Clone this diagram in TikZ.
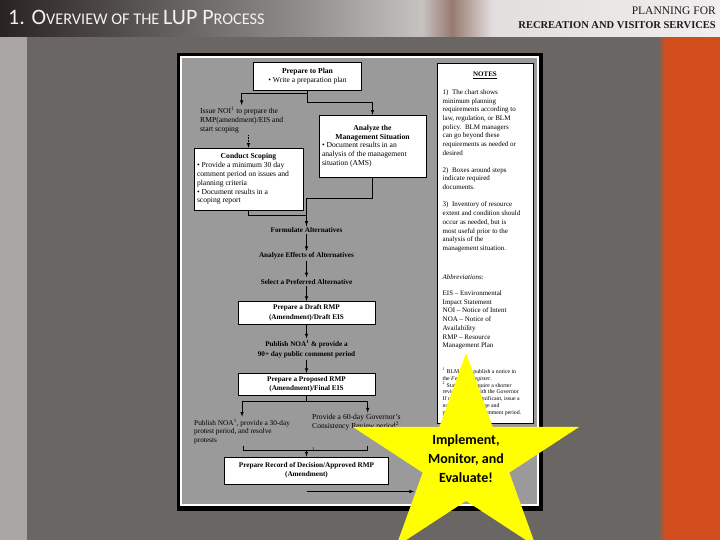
\documentclass[tikz,border=0pt]{standalone}
\usepackage{fontspec}
\setmainfont{Liberation Serif}
\newfontfamily\slidefont{Carlito}
\usepackage{xcolor}
\usetikzlibrary{positioning,calc}

\definecolor{hdrdark}{HTML}{2A2323}
\definecolor{hdrmid}{HTML}{8F8D8C}
\definecolor{hdrlight}{HTML}{C6C2C0}
\definecolor{hdrbrown}{HTML}{987A72}
\definecolor{hdrwhite}{HTML}{E2DEDD}
\definecolor{hdrend}{HTML}{F0EEEE}
\definecolor{hdrtext}{HTML}{1E1A1A}
\definecolor{titlewhite}{HTML}{F2F2F2}
\definecolor{sidegray}{HTML}{A9A6A4}
\definecolor{slidegray}{HTML}{6A6664}
\definecolor{slideorange}{HTML}{D14D1C}
\definecolor{chartgray}{HTML}{9A9A9A}
\definecolor{staryellow}{HTML}{FFFF00}

\newcommand{\boxfont}{\fontsize{7.6}{8.8}\selectfont}
\newcommand{\stepfont}{\fontsize{7.2}{9.5}\selectfont\bfseries}
\newcommand{\notefont}{\fontsize{7}{8.7}\selectfont}
\newcommand{\footfont}{\fontsize{5.8}{6.9}\selectfont}
\newcommand{\ttlbig}{\fontsize{22}{22}\selectfont}
\newcommand{\ttlsmall}{\fontsize{16.3}{16.3}\selectfont}
\newcommand{\boxhead}[1]{\makebox[\linewidth][c]{\textbf{#1}}}

\tikzset{
  stepbox/.style={draw, fill=white, line width=0.6pt, inner sep=3pt},
  steplabel/.style={inner sep=1.5pt, align=center, font=\stepfont},
  plainlabel/.style={inner sep=2pt, align=left, font=\boxfont, anchor=west},
  notetext/.style={inner sep=0pt, align=left, font=\notefont, anchor=west},
  arr/.style={-latex, line width=0.6pt},
  link/.style={line width=0.6pt},
}

\begin{document}
\begin{tikzpicture}[x=1pt,y=-1pt]
    \useasboundingbox (0,0) rectangle (720,540);
    \clip (0,0) rectangle (720,540);
    % slide background
    \fill[slidegray] (0,37) rectangle (720,540);
    \fill[sidegray] (0,37) rectangle (27,540);
    \shade[left color=slidegray, right color=slideorange] (658,37) rectangle (665,540);
    \fill[slideorange] (665,37) rectangle (720,540);
    % header band
    \shade[left color=hdrdark, right color=hdrmid] (0,0) rectangle (300,37);
    \shade[left color=hdrmid, right color=hdrlight] (300,0) rectangle (422,37);
    \shade[left color=hdrlight, right color=hdrbrown] (422,0) rectangle (452,37);
    \shade[left color=hdrbrown, right color=hdrwhite] (452,0) rectangle (492,37);
    \shade[left color=hdrwhite, right color=hdrend] (492,0) rectangle (720,37);
    \node[anchor=base west, inner sep=0, text=titlewhite, font=\slidefont] (title) at (8,25)
        {\ttlbig 1. O\ttlsmall VERVIEW OF THE \ttlbig LUP P\ttlsmall ROCESS};
    \node[anchor=base east, inner sep=0, text=hdrtext, font=\fontsize{11.5}{12}\selectfont] (subtop) at (716,15) {PLANNING FOR};
    \node[anchor=base east, inner sep=0, text=hdrtext, font=\fontsize{10.5}{11}\selectfont\bfseries] (subbot) at (716,28.5) {RECREATION AND VISITOR SERVICES};

    % chart frame
    \fill[black] (177,53) rectangle (543,511);
    \fill[white] (180,56) rectangle (539,506);
    \fill[chartgray] (182,58) rectangle (537,504);

    % flow chart
    \node[stepbox, minimum width=108pt, minimum height=28pt, align=center, font=\boxfont] (plan) at (307.5,76.5)
        {\textbf{Prepare to Plan}\\\textbullet\ Write a preparation plan};
    \node[plainlabel] (issue) at (198,120) {Issue NOI\textsuperscript{1} to prepare the\\RMP(amendment)/EIS and\\start scoping};
    \node[stepbox, text width=103pt, minimum height=62pt, align=flush left, font=\boxfont] (scope) at (248.5,179)
        {\boxhead{Conduct Scoping}\\\textbullet\ Provide a minimum 30 day\\comment period on issues and\\planning criteria\\\textbullet\ Document results in a\\scoping report};
    \node[stepbox, text width=101pt, minimum height=62pt, align=flush left, font=\boxfont] (ams) at (372.5,146)
        {\boxhead{Analyze the}\\\boxhead{Management Situation}\\\textbullet\ Document results in an\\analysis of the management\\situation (AMS)\par\vspace{9pt}};
    \node[steplabel] (formulate) at (306.5,230) {Formulate Alternatives};
    \node[steplabel] (effects) at (306.5,256) {Analyze Effects of Alternatives};
    \node[steplabel] (select) at (306.5,281.5) {Select a Preferred Alternative};
    \node[stepbox, minimum width=137pt, minimum height=23pt, align=center, font=\stepfont] (draft) at (306.5,312.7)
        {Prepare a Draft RMP\\(Amendment)/Draft EIS};
    \node[steplabel, font=\fontsize{7.2}{10}\selectfont\bfseries] (noa) at (306.5,349)
        {Publish NOA\textsuperscript{1} \& provide a\\90+ day public comment period};
    \node[stepbox, minimum width=137pt, minimum height=22pt, align=center, font=\stepfont] (proposed) at (306.5,384.2)
        {Prepare a Proposed RMP\\(Amendment)/Final EIS};
    \node[plainlabel, font=\fontsize{7.3}{8.7}\selectfont] (protest) at (192,431.5)
        {Publish NOA\textsuperscript{1}, provide a 30-day\\protest period, and resolve\\protests};
    \node[plainlabel] (governor) at (310,422.5)
        {Provide a 60-day Governor's\\Consistency Review period\textsuperscript{2}};
    \node[stepbox, minimum width=164pt, minimum height=27pt, align=center, font=\stepfont] (record) at (306.5,470.3)
        {Prepare Record of Decision/Approved RMP\\(Amendment)};
    \node[inner sep=0, font=\fontsize{4.5}{5}\selectfont] (recmark) at (313.3,449) {1};

    \coordinate (govin) at (367.7,412.5);
    \coordinate (brl) at (243.3,445.5);
    \coordinate (brr) at (367.7,445.5);
    \coordinate (brm) at (306.5,450.7);
    \coordinate (evalstart) at (306.5,491.5);
    \coordinate (evalend) at (414,491.5);

    \draw[arr] (plan.south) -- ++(0,2.5) -| (issue.north);
    \draw[arr] (plan.south) -- ++(0,12) -| (ams.north);
    \draw[arr, densely dotted] (issue.south -| scope.north) -- (scope.north);
    \draw[link] (ams.south) -- ++(0,21) -| (formulate.north);
    \draw[arr] (scope.south) -- ++(0,5) -| (formulate.north);
    \draw[arr] (formulate) -- (effects);
    \draw[arr] (effects) -- (select);
    \draw[arr] (select) -- (draft);
    \draw[arr] (draft) -- (noa);
    \draw[arr] (noa) -- (proposed);
    \draw[arr] (proposed.south) -- ++(0,6) -| (protest.north);
    \draw[arr] (proposed.south) -- ++(0,6) -| (govin);
    \draw[link] (brl) -- ++(0,5.2) -| (brr);
    \draw[arr] (brm) -- (record.north);
    \draw[arr] (evalstart) -- (evalend);

    % notes column
    \node[draw, fill=white, line width=0.5pt, anchor=north west, minimum width=96pt, minimum height=360pt, inner sep=0] (notes) at (437,63) {};
    \node[inner sep=0, font=\notefont\bfseries] (notehead) at (485,75) {\underline{NOTES}};
    \node[notetext] (note1) at (442.5,122.5) {1)\ \ The chart shows\\minimum planning\\requirements according to\\law, regulation, or BLM\\policy.\ \ BLM managers\\can go beyond these\\requirements as needed or\\desired};
    \node[notetext] (note2) at (442.5,178.5) {2)\ \ Boxes around steps\\indicate required\\documents.};
    \node[notetext] (note3) at (442.5,227) {3)\ \ Inventory of resource\\extent and condition should\\occur as needed, but is\\most useful prior to the\\analysis of the\\management situation.};
    \node[notetext] (abbrhead) at (442.5,277) {\textit{Abbreviations:}};
    \node[notetext] (abbr) at (442.5,320) {EIS -- Environmental\\Impact Statement\\NOI -- Notice of Intent\\NOA -- Notice of\\Availability\\RMP -- Resource\\Management Plan};
    \node[notetext, font=\footfont] (foot) at (442.5,392) {\textsuperscript{1} BLM must publish a notice in\\the \textit{Federal Register}.\\\textsuperscript{2} States may require a shorter\\review period with the Governor\\If changes are significant, issue a\\notice of the change and\\provide a public comment period.};

    % star
    \fill[staryellow] (466,353) -- (492.7,426.9) -- (579.2,426.9) -- (509.3,472.6) -- (536,546.6)
        -- (466,500.9) -- (396,546.6) -- (422.7,472.6) -- (352.8,426.9) -- (439.3,426.9) -- cycle;
    \node[align=center, font=\slidefont\bfseries\fontsize{14}{19}\selectfont] (starlabel) at (466,459)
        {Implement,\\Monitor, and\\Evaluate!};
\end{tikzpicture}
\end{document}
